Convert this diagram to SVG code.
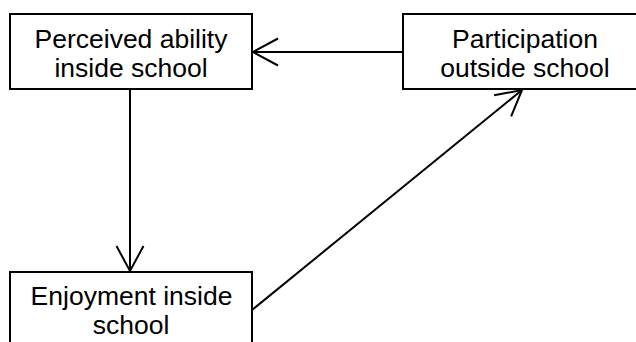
<svg xmlns="http://www.w3.org/2000/svg" width="636" height="342" viewBox="0 0 636 342">
<defs>
<style>
.box{fill:#fff;stroke:#000;stroke-width:2}
.t{font-family:"Liberation Sans",Arial,sans-serif;font-size:26.5px;fill:#000;text-anchor:middle}
.c{stroke:#000;stroke-width:2;fill:none}
</style>
<marker id="ah" markerUnits="userSpaceOnUse" markerWidth="40" markerHeight="40" viewBox="-30 -20 40 40" refX="0" refY="0" orient="auto" overflow="visible">
<path d="M-25,-13.5 L0,0 L-25,13.5" fill="none" stroke="#000" stroke-width="2"/>
</marker>
</defs>
<rect width="636" height="342" fill="#fff"/>
<g id="connectors">
<path class="c" d="M403,52 L253,52" marker-end="url(#ah)"/>
<path class="c" d="M130,89 L130,271" marker-end="url(#ah)"/>
<path class="c" d="M252,310 L522,90" marker-end="url(#ah)"/>
</g>
<g id="n1">
<rect class="box" x="10" y="14" width="242" height="75"/>
<text class="t" x="131" y="47.5">Perceived ability</text>
<text class="t" x="131" y="77">inside school</text>
</g>
<g id="n2">
<rect class="box" x="403" y="14" width="244" height="75"/>
<text class="t" x="525" y="47.5">Participation</text>
<text class="t" x="525" y="77">outside school</text>
</g>
<g id="n3">
<rect class="box" x="10" y="272" width="242" height="80"/>
<text class="t" x="131.5" y="304.5">Enjoyment inside</text>
<text class="t" x="131" y="333.5">school</text>
</g>
</svg>
